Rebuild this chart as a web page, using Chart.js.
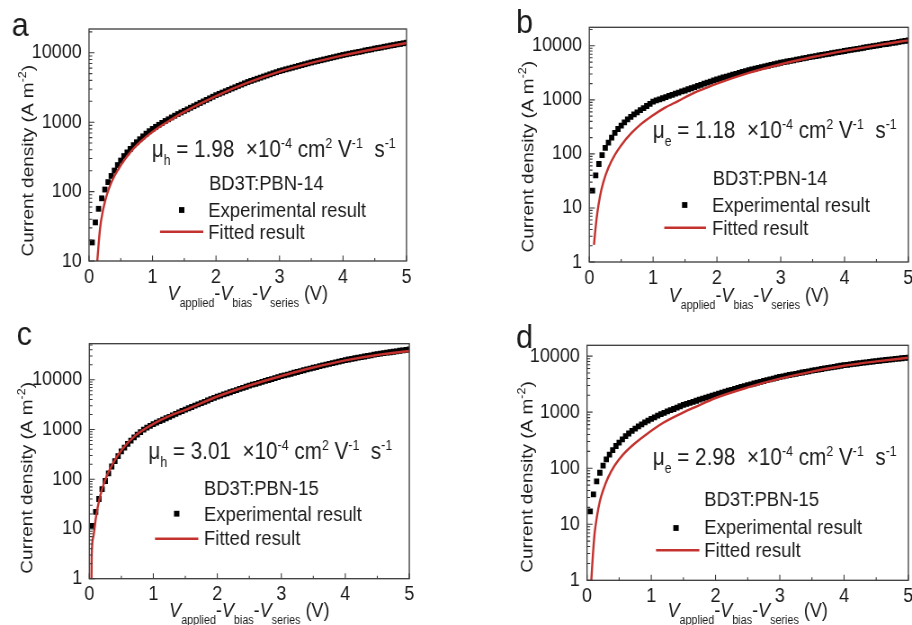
<!DOCTYPE html>
<html>
<head>
<meta charset="utf-8">
<title>Space-charge-limited current fits</title>
<script src="https://cdn.jsdelivr.net/npm/chart.js@4.4.1/dist/chart.umd.min.js"></script>
<style>
  html, body { margin: 0; padding: 0; background: #fff; }
  #fig { position: relative; width: 912px; height: 625px; overflow: hidden; background: #fff; }
  #fig canvas { position: absolute; }
</style>
</head>
<body>
<div id="fig"></div>
<script>
// Effective voltage V_applied - V_bias - V_series of each measured point (V)
const voltage = [
  0.05, 0.10, 0.15, 0.20, 0.25, 0.30, 0.35, 0.40, 0.45, 0.50,
  0.55, 0.60, 0.65, 0.70, 0.75, 0.80, 0.85, 0.90, 0.95, 1.00,
  1.05, 1.10, 1.15, 1.20, 1.25, 1.30, 1.35, 1.40, 1.45, 1.50,
  1.55, 1.60, 1.65, 1.70, 1.75, 1.80, 1.85, 1.90, 1.95, 2.00,
  2.05, 2.10, 2.15, 2.20, 2.25, 2.30, 2.35, 2.40, 2.45, 2.50,
  2.55, 2.60, 2.65, 2.70, 2.75, 2.80, 2.85, 2.90, 2.95, 3.00,
  3.05, 3.10, 3.15, 3.20, 3.25, 3.30, 3.35, 3.40, 3.45, 3.50,
  3.55, 3.60, 3.65, 3.70, 3.75, 3.80, 3.85, 3.90, 3.95, 4.00,
  4.05, 4.10, 4.15, 4.20, 4.25, 4.30, 4.35, 4.40, 4.45, 4.50,
  4.55, 4.60, 4.65, 4.70, 4.75, 4.80, 4.85, 4.90, 4.95, 5.00
];

// Measured current density (A m^-2), hole-only device, BD3T:PBN-14
const expA = [
  18.5, 36, 56.5, 80, 107, 137, 168, 201, 241, 280,
  325, 367, 412, 467, 514, 568, 625, 683, 742, 800,
  857, 916, 977, 1040, 1100, 1170, 1240, 1310, 1380, 1455,
  1530, 1615, 1700, 1790, 1890, 1990, 2095, 2205, 2325, 2450,
  2560, 2670, 2790, 2920, 3050, 3180, 3330, 3475, 3630, 3790,
  3930, 4080, 4230, 4380, 4545, 4710, 4890, 5070, 5250, 5445,
  5600, 5770, 5930, 6100, 6280, 6460, 6650, 6840, 7040, 7240,
  7430, 7610, 7800, 8000, 8200, 8410, 8620, 8840, 9060, 9290,
  9490, 9690, 9900, 10100, 10300, 10500, 10800, 11000, 11200, 11500,
  11700, 11900, 12200, 12400, 12700, 12900, 13200, 13400, 13700, 13960
];
// Electron-only device, BD3T:PBN-14
const expB = [
  21, 40, 65, 95, 129, 161, 200, 245, 289, 335,
  384, 434, 484, 537, 589, 644, 705, 770, 845, 930,
  975, 1020, 1070, 1120, 1180, 1240, 1300, 1360, 1430, 1490,
  1570, 1640, 1720, 1810, 1890, 1990, 2080, 2180, 2290, 2400,
  2500, 2600, 2700, 2810, 2920, 3030, 3150, 3280, 3410, 3550,
  3660, 3780, 3900, 4020, 4150, 4280, 4420, 4560, 4710, 4860,
  4990, 5120, 5260, 5390, 5540, 5680, 5830, 5990, 6150, 6310,
  6460, 6620, 6780, 6940, 7110, 7280, 7460, 7640, 7820, 8010,
  8200, 8390, 8590, 8790, 9000, 9210, 9420, 9650, 9870, 10100,
  10300, 10600, 10800, 11000, 11300, 11500, 11800, 12100, 12300, 12600
];
// Hole-only device, BD3T:PBN-15
const expC = [
  11.5, 22, 40, 63, 92, 131, 180, 231, 292, 362,
  433, 512, 595, 691, 786, 885, 990, 1085, 1185, 1280,
  1370, 1470, 1570, 1680, 1790, 1920, 2050, 2200, 2350, 2510,
  2670, 2830, 3010, 3190, 3390, 3600, 3820, 4060, 4310, 4580,
  4810, 5060, 5330, 5600, 5900, 6200, 6520, 6860, 7220, 7600,
  7940, 8290, 8660, 9050, 9450, 9870, 10300, 10800, 11300, 11800,
  12200, 12700, 13200, 13800, 14300, 14900, 15500, 16100, 16700, 17400,
  18000, 18700, 19400, 20100, 20800, 21500, 22300, 23100, 24000, 24800,
  25500, 26300, 27000, 27800, 28500, 29300, 30100, 31000, 31900, 32800,
  33500, 34200, 35000, 35700, 36500, 37300, 38200, 39000, 39900, 40800
];
// Electron-only device, BD3T:PBN-15
const expD = [
  17, 34, 58, 83, 111, 144, 175, 211, 249, 285,
  328, 373, 416, 462, 508, 557, 605, 660, 709, 760,
  810, 865, 920, 975, 1035, 1085, 1140, 1210, 1275, 1350,
  1410, 1470, 1530, 1600, 1670, 1740, 1820, 1900, 1980, 2060,
  2140, 2230, 2320, 2410, 2500, 2600, 2700, 2810, 2920, 3030,
  3140, 3250, 3360, 3480, 3600, 3720, 3850, 3980, 4110, 4250,
  4360, 4480, 4600, 4720, 4840, 4970, 5100, 5230, 5360, 5500,
  5630, 5760, 5890, 6030, 6170, 6310, 6450, 6590, 6740, 6880,
  7000, 7130, 7250, 7380, 7500, 7630, 7760, 7890, 8020, 8150,
  8270, 8400, 8520, 8650, 8770, 8900, 9040, 9170, 9310, 9440
];

// SCLC fitted curves: voltage (V) and current density (A m^-2)
const fitVoltA = [0.13, 0.174, 0.226, 0.279, 0.358, 0.462, 0.568, 0.726, 0.883, 1.04, 1.25, 1.5, 2, 2.5, 3, 3.5, 4, 4.5, 5];
const fitA     = [10, 29.6, 57, 89, 140, 210, 295, 440, 595, 770, 1030, 1410, 2380, 3700, 5350, 7150, 9150, 11350, 13800];
const fitVoltB = [0.073, 0.1, 0.125, 0.167, 0.219, 0.297, 0.402, 0.506, 0.662, 0.818, 0.975, 1.18, 1.39, 1.65, 1.81, 2, 2.5, 3, 3.5, 4, 4.5, 5];
const fitB     = [2.07, 4.5, 8, 16.3, 29.7, 54.7, 96.6, 148, 244, 363, 497, 710, 950, 1360, 1630, 2000, 3150, 4560, 6200, 8050, 10200, 12600];
const fitVoltC = [0.034, 0.037, 0.063, 0.105, 0.167, 0.245, 0.35, 0.506, 0.714, 0.975, 1.29, 1.5, 2, 2.5, 3, 3.5, 4, 4.5, 5];
const fitC     = [1, 2.8, 7, 17.6, 44.7, 94, 188, 389, 742, 1240, 1960, 2480, 4600, 7650, 11900, 17600, 24500, 31500, 37800];
const fitVoltD = [0.067, 0.093, 0.119, 0.156, 0.197, 0.249, 0.327, 0.43, 0.56, 0.715, 0.922, 1.18, 1.493, 1.7, 2, 2.5, 3, 3.5, 4, 4.5, 5];
const fitD     = [1, 3.0, 7, 14, 25, 40, 68, 112, 175, 260, 400, 640, 980, 1260, 1790, 2760, 3970, 5300, 6750, 8050, 9350];

// Axis tick labels
const xTickValues = [0, 1, 2, 3, 4, 5];
const yTickValues = [1, 10, 100, 1000, 10000];

// Panel annotations
const mobilities = ['1.98', '1.18', '3.01', '2.98'];
const carriers = ['h', 'e', 'h', 'e'];
const blends = ['BD3T:PBN-14', 'BD3T:PBN-14', 'BD3T:PBN-15', 'BD3T:PBN-15'];
const panelLetters = ['a', 'b', 'c', 'd'];

// ---------------------------------------------------------------------------
// Drawing setup
const SX = 456 / 507;               // canvases are drawn wide and squeezed horizontally
const FONT = '"Liberation Sans", Arial, Helvetica, sans-serif';
const INK = '#1b1b1b';
const FRAME = '#3a3a3a';
const FIT_RED = '#c3322e';
const FS = { tick: 20, yTitle: 19, xTitle: 20, legend: 20.5, mu: 23, letter: 34 };
const X = v => v / SX;              // page px -> canvas px (horizontal)

// Panel placement; all coordinates are page pixels relative to the panel's corner
const layouts = [
  { pos: [0, 0], size: [456, 312], area: { l: 89, r: 406.5, t: 29, b: 261 }, yMin: 10, yMax: 22000,
    letter: [11.7, 36], yTitle: [26.7, 160.7], xTitleBase: 300, mu: [151.7, 156.7], blend: [209, 190],
    marker: [181.7, 210], expLbl: [208.3, 216.7], line: [160, 203.3, 231.7], fitLbl: [208.3, 239] },
  { pos: [456, 0], size: [456, 312], area: { l: 133.3, r: 453.3, t: 27.3, b: 262 }, yMin: 1, yMax: 22000,
    letter: [60, 33], yTitle: [70.8, 156.7], xTitleBase: 301.7, mu: [196.7, 138.3], blend: [256.7, 185],
    marker: [228.7, 205], expLbl: [256, 212.3], line: [208.3, 250, 227.7], fitLbl: [256, 235] },
  { pos: [0, 312], size: [456, 313], area: { l: 89.3, r: 409.3, t: 31.7, b: 266.7 }, yMin: 1, yMax: 53000,
    letter: [16.7, 33.3], yTitle: [25.8, 165.8], xTitleBase: 305, mu: [148.3, 146.7], blend: [204, 182.7],
    marker: [176.7, 201.7], expLbl: [204, 209.3], line: [155, 198.3, 226.7], fitLbl: [204, 233.3] },
  { pos: [456, 312], size: [456, 313], area: { l: 131, r: 453.3, t: 33.3, b: 268.3 }, yMin: 1, yMax: 15600,
    letter: [60, 36], yTitle: [70, 165], xTitleBase: 305, mu: [196.7, 152.7], blend: [248.3, 194.3],
    marker: [220, 216], expLbl: [248.3, 221.7], line: [200, 243.3, 238.3], fitLbl: [248.3, 245] }
];
const expSeries = [expA, expB, expC, expD];
const fitVolts = [fitVoltA, fitVoltB, fitVoltC, fitVoltD];
const fitSeries = [fitA, fitB, fitC, fitD];

// ---------------------------------------------------------------------------
// Mixed text (italic, sub- and superscripts)
function makeFont(size, italic) { return (italic ? 'italic ' : '') + size + 'px ' + FONT; }
function segSize(kind, size, small) { return (kind === 'sub' || kind === 'sup') ? size * small : size; }
function measureRich(ctx, segs, size, small) {
  let w = 0;
  for (const [t, k] of segs) { ctx.font = makeFont(segSize(k, size, small), k === 'i'); w += ctx.measureText(t).width; }
  return w;
}
function drawRich(ctx, segs, x, y, size, small) {
  let cx = x;
  for (const [t, k] of segs) {
    ctx.font = makeFont(segSize(k, size, small), k === 'i');
    const dy = k === 'sub' ? size * 0.34 : (k === 'sup' ? -size * 0.4 : 0);
    ctx.fillText(t, cx, y + dy);
    cx += ctx.measureText(t).width;
  }
}
const yTitleSegs = [['Current density (A m', 'n'], ['-2', 'sup'], [')', 'n']];
const xTitleSegs = [['V', 'i'], ['applied', 'sub'], ['-', 'n'], ['V', 'i'], ['bias', 'sub'], ['-', 'n'],
                    ['V', 'i'], ['series', 'sub'], [' (V)', 'n']];

function decorations(idx) {
  const L = layouts[idx];
  return {
    id: 'decor' + idx,
    afterDraw(chart) {
      const { ctx, chartArea: ca } = chart;
      const xs = chart.scales.x, ys = chart.scales.y;
      ctx.save();

      // frame
      ctx.strokeStyle = FRAME;
      ctx.lineWidth = 1.3;
      ctx.strokeRect(ca.left, ca.top, ca.right - ca.left, ca.bottom - ca.top);

      // inward tick marks
      ctx.beginPath();
      ctx.lineWidth = 1.1;
      xTickValues.forEach((v, i) => {
        const px = xs.getPixelForValue(v);
        ctx.moveTo(px, ca.bottom); ctx.lineTo(px, ca.bottom - 5.5);
        if (i < xTickValues.length - 1) {
          const pm = xs.getPixelForValue((v + xTickValues[i + 1]) / 2);
          ctx.moveTo(pm, ca.bottom); ctx.lineTo(pm, ca.bottom - 3);
        }
      });
      yTickValues.forEach(d => {
        for (let m = 1; m <= 9; m++) {
          const v = d * m;
          if (v < ys.min || v > ys.max) continue;
          const py = ys.getPixelForValue(v);
          ctx.moveTo(ca.left, py); ctx.lineTo(ca.left + X(m === 1 ? 5.5 : 3.2), py);
        }
      });
      ctx.stroke();

      ctx.fillStyle = INK;
      ctx.textAlign = 'left';
      ctx.textBaseline = 'alphabetic';

      // panel letter
      ctx.font = makeFont(FS.letter);
      ctx.fillText(panelLetters[idx], X(L.letter[0]), L.letter[1]);

      // y-axis title, rotated
      ctx.save();
      ctx.translate(X(L.yTitle[0]) + 0.36 * FS.yTitle, L.yTitle[1]);
      ctx.rotate(-Math.PI / 2);
      const yw = measureRich(ctx, yTitleSegs, FS.yTitle, 0.66);
      drawRich(ctx, yTitleSegs, -yw / 2, 0, FS.yTitle, 0.66);
      ctx.restore();

      // x-axis title
      const xw = measureRich(ctx, xTitleSegs, FS.xTitle, 0.6);
      drawRich(ctx, xTitleSegs, (ca.left + ca.right) / 2 - xw / 2, L.xTitleBase, FS.xTitle, 0.6);

      // mobility
      const muSegs = [['\u03bc', 'n'], [carriers[idx], 'sub'], [' = ' + mobilities[idx] + '  ', 'n'], ['\u00d7', 'n'],
                      ['10', 'n'], ['-4', 'sup'], [' cm', 'n'], ['2', 'sup'], [' V', 'n'], ['-1', 'sup'],
                      ['  s', 'n'], ['-1', 'sup']];
      drawRich(ctx, muSegs, X(L.mu[0]), L.mu[1], FS.mu, 0.6);

      // blend name and legend
      ctx.font = makeFont(FS.legend);
      ctx.fillText(blends[idx], X(L.blend[0]), L.blend[1]);
      ctx.fillText('Experimental result', X(L.expLbl[0]), L.expLbl[1]);
      ctx.fillText('Fitted result', X(L.fitLbl[0]), L.fitLbl[1]);
      ctx.fillStyle = '#000';
      ctx.fillRect(X(L.marker[0]) - 3, L.marker[1] - 2.9, 6, 5.8);
      ctx.strokeStyle = FIT_RED;
      ctx.lineWidth = 2.4;
      ctx.beginPath();
      ctx.moveTo(X(L.line[0]), L.line[2]); ctx.lineTo(X(L.line[1]), L.line[2]);
      ctx.stroke();

      ctx.restore();
    }
  };
}

const fig = document.getElementById('fig');
layouts.forEach((L, idx) => {
  const W = Math.round(L.size[0] / SX);
  const H = L.size[1];
  const cv = document.createElement('canvas');
  cv.width = W; cv.height = H;
  cv.style.left = L.pos[0] + 'px'; cv.style.top = L.pos[1] + 'px';
  cv.style.width = L.size[0] + 'px'; cv.style.height = H + 'px';
  fig.appendChild(cv);

  const A = { l: X(L.area.l), r: X(L.area.r), t: L.area.t, b: L.area.b };
  const tickFont = { family: FONT, size: FS.tick };

  new Chart(cv, {
    type: 'scatter',
    data: {
      datasets: [
        {
          label: 'Fitted result',
          data: fitVolts[idx].map((v, i) => ({ x: v, y: fitSeries[idx][i] })),
          showLine: true, borderColor: FIT_RED, borderWidth: 2.4, pointRadius: 0,
          cubicInterpolationMode: 'monotone', fill: false
        },
        {
          label: 'Experimental result',
          data: voltage.map((v, i) => ({ x: v, y: expSeries[idx][i] })),
          showLine: false, pointStyle: 'rect', pointRadius: 4.1,
          backgroundColor: '#000', borderColor: '#000', borderWidth: 0
        }
      ]
    },
    options: {
      responsive: false,
      animation: false,
      devicePixelRatio: 1,
      events: [],
      layout: { padding: { left: 0, top: A.t, right: W - A.r, bottom: 0 } },
      plugins: { legend: { display: false }, tooltip: { enabled: false } },
      scales: {
        x: {
          type: 'linear', position: 'bottom', min: 0, max: 5,
          afterBuildTicks: s => { s.ticks = xTickValues.map(v => ({ value: v })); },
          afterFit: s => { s.height = H - A.b; s.paddingLeft = 0; s.paddingRight = 0; },
          grid: { display: false, drawTicks: false },
          border: { display: false },
          ticks: { color: INK, font: tickFont, padding: 4, maxRotation: 0, autoSkip: false, callback: v => String(v) }
        },
        y: {
          type: 'logarithmic', position: 'left', min: L.yMin, max: L.yMax,
          afterBuildTicks: s => { s.ticks = yTickValues.filter(v => v >= L.yMin && v <= L.yMax).map(v => ({ value: v })); },
          afterFit: s => { s.width = A.l; s.paddingTop = 0; s.paddingBottom = 0; },
          grid: { display: false, drawTicks: false },
          border: { display: false },
          ticks: { color: INK, font: tickFont, padding: 8, autoSkip: false, callback: v => String(v) }
        }
      }
    },
    plugins: [decorations(idx)]
  });
});
</script>
</body>
</html>
